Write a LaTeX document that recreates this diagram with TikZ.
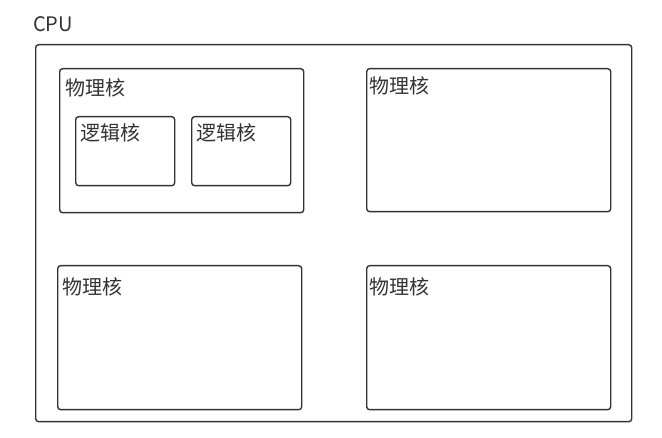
\documentclass[tikz,border=0pt]{standalone}
\usepackage{fontspec}
\newfontfamily\cjk{Noto Sans CJK SC}
\usepackage{xcolor}
\usepackage{tikz}
\usetikzlibrary{positioning}

\definecolor{edgegray}{HTML}{333333}

\begin{document}
\begin{tikzpicture}[x=1pt, y=-1pt,
    every node/.style={font=\cjk\fontsize{20}{20}\selectfont, text=edgegray},
    corebox/.style={draw=edgegray, line width=1.4pt, rounded corners=3pt, anchor=north west, inner sep=0pt},
    caption/.style={anchor=west, inner sep=0pt},
]
\useasboundingbox (0,0) rectangle (662,438);

% outer cpu frame
\node[corebox, minimum width=596pt, minimum height=377pt] (cpu) at (35,44) {};
\node[caption, font=\cjk\fontsize{20}{20}\selectfont] (cpulbl) at (33,24) {CPU};

% physical cores
\node[corebox, minimum width=244pt, minimum height=144pt] (phy1) at (59,68) {};
\node[corebox, minimum width=244pt, minimum height=143pt] (phy2) at (366,68) {};
\node[corebox, minimum width=244pt, minimum height=144pt] (phy3) at (57,265) {};
\node[corebox, minimum width=244pt, minimum height=144pt] (phy4) at (366,265) {};

\node[caption] (phy1lbl) at (65,88) {物理核};
\node[caption] (phy2lbl) at (369,86) {物理核};
\node[caption] (phy3lbl) at (62,287) {物理核};
\node[caption] (phy4lbl) at (369,287) {物理核};

% logical cores
\node[corebox, minimum width=99pt, minimum height=69pt] (log1) at (75,116) {};
\node[corebox, minimum width=99pt, minimum height=69pt] (log2) at (191,116) {};
\node[caption] (log1lbl) at (80,133) {逻辑核};
\node[caption] (log2lbl) at (196,133) {逻辑核};
\end{tikzpicture}
\end{document}
